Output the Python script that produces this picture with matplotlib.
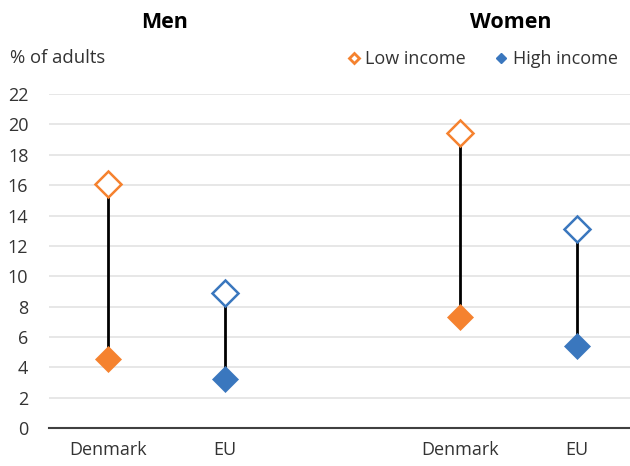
import matplotlib
matplotlib.use("Agg")
import matplotlib.pyplot as plt
from matplotlib.lines import Line2D

plt.rcParams['font.family'] = ['Open Sans', 'DejaVu Sans']

categories = ["Denmark", "EU", "", "Denmark", "EU"]
groups = ["Men", "Women"]
low_income = [16.1, 8.9, None, 19.45, 13.1]
high_income = [4.55, 3.2, None, 7.3, 5.4]
point_colors = ["#F5822F", "#3A77BE", None, "#F5822F", "#3A77BE"]
yticks = list(range(0, 23, 2))

fig = plt.figure(figsize=(6.3, 4.66), dpi=100)
ax = fig.add_axes([0.078, 0.0815, 0.922, 0.7165])

for i, (lo, hi, c) in enumerate(zip(low_income, high_income, point_colors)):
    if lo is None:
        continue
    ax.plot([i, i], [hi, lo], color="black", lw=2.0, zorder=2)
    ax.plot(i, lo, marker="D", ms=13, mfc="white", mec=c, mew=1.8, zorder=3, linestyle="none")
    ax.plot(i, hi, marker="D", ms=13.5, mfc=c, mec=c, mew=0.5, zorder=3, linestyle="none")

ax.set_ylim(0, 22)
ax.set_xlim(-0.5, 4.45)
ax.set_yticks(yticks)
ax.set_yticklabels([str(t) for t in yticks])
ticks_x = [i for i, c in enumerate(categories) if c]
ax.set_xticks(ticks_x)
ax.set_xticklabels([categories[i] for i in ticks_x])
ax.tick_params(axis="both", length=0, labelsize=13, colors="#333333")
ax.tick_params(axis="y", pad=15)
ax.tick_params(axis="x", pad=9)
ax.grid(axis="y", color="#E3E3E3", lw=1.2, zorder=0)
ax.set_axisbelow(True)
for s in ["top", "right", "left"]:
    ax.spines[s].set_visible(False)
ax.spines["bottom"].set_color("#404040")
ax.spines["bottom"].set_linewidth(1.5)

# group titles
ax.text(0.48, 1 + 72 / 334, groups[0], transform=ax.get_xaxis_transform(), ha="center", va="center",
        fontsize=15.5, fontweight="bold", color="black")
ax.text(3.43, 1 + 72 / 334, groups[1], transform=ax.get_xaxis_transform(), ha="center", va="center",
        fontsize=15.5, fontweight="bold", color="black")

fig.text(10 / 630, 1 - 58 / 466, "% of adults", ha="left", va="center", fontsize=13.3, color="#333333")

handles = [
    Line2D([], [], marker="D", ls="none", ms=5.5, mfc="white", mec="#F5822F", mew=2, label="Low income"),
    Line2D([], [], marker="D", ls="none", ms=5.5, mfc="#3A77BE", mec="#3A77BE", label="High income"),
]
leg = fig.legend(handles=handles, loc="center right", bbox_to_anchor=(618 / 630, 1 - 59 / 466),
                 ncol=2, frameon=False, fontsize=13, handlelength=0.5, handletextpad=0.4,
                 columnspacing=1.7, borderaxespad=0, borderpad=0)
for t in leg.get_texts():
    t.set_color("#333333")

fig.savefig("out.png", dpi=100)
